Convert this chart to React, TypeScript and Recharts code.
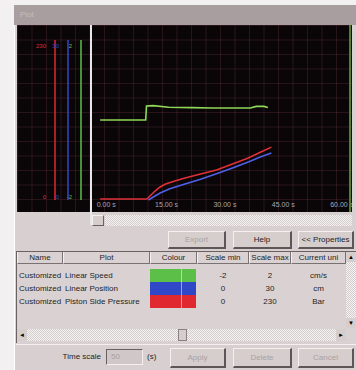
import React from "react";
import { LineChart, Line, XAxis, YAxis } from "recharts";

// series (time in s)
const speedTime = [1.4, 13.1, 13.3, 15, 19, 25, 30, 35, 40, 41.5, 43.5, 44.5];
const speedValues = [0, 0, 0.35, 0.36, 0.32, 0.31, 0.3, 0.3, 0.3, 0.34, 0.34, 0.31];

const positionTime = [13.8, 15.5, 16.8, 19.3, 23.2, 27.2, 31.3, 35.4, 39.3, 42.7, 45.4];
const positionValues = [0, 0.75, 1.3, 2.1, 3, 3.9, 4.9, 6, 7.1, 8.1, 8.8];

const pressureTime = [1.4, 13.4, 14.2, 15.5, 16.8, 18.2, 20.6, 23.2, 27.2, 31.3, 35.4, 39.3, 42.7, 45.4];
const pressureValues = [1.4, 1.4, 5.8, 12.9, 18.7, 23, 27.3, 31.6, 37.4, 43, 51.8, 60, 69, 76];

const xTicks = [0, 15, 30, 45, 60];

const names = ["Customized", "Customized", "Customized"];
const plotNames = ["Linear Speed", "Linear Position", "Piston Side Pressure"];
const colours = ["#5cc048", "#3048c8", "#e02830"];
const scaleMin = [-2, 0, 0];
const scaleMax = [2, 30, 230];
const units = ["cm/s", "cm", "Bar"];

const zip = (t: number[], v: number[]) => t.map((x, i) => ({ t: x, v: v[i] }));

const FONT = '"Liberation Sans", Arial, sans-serif';

const Btn = ({ x, y, w, h, label, disabled }: any) => (
  <div
    style={{
      position: "absolute", left: x, top: y, width: w, height: h,
      background: "#d6cdcd", boxSizing: "border-box",
      borderTop: "1px solid #f4f0f0", borderLeft: "1px solid #f4f0f0",
      borderRight: "2px solid #5e5656", borderBottom: "2px solid #5e5656",
      display: "flex", alignItems: "center", justifyContent: "center",
      fontSize: 8, color: disabled ? "#aaa2a2" : "#1e1e1e",
    }}
  >
    {label}
  </div>
);

const hatch = "repeating-conic-gradient(#f6f3f3 0 25%, #d4cccc 0 50%) 0 0/2px 2px";

const YTick = ({ x, y, payload, fill, min }: any) => (
  <text x={x - 1} y={y} dy={payload.value === min ? -1 : 8} textAnchor="end" fontSize={6} fill={fill} fontFamily={FONT}>
    {payload.value}
  </text>
);

const XTick = ({ x, y, payload }: any) => (
  <text x={x + 2} y={y + 7} textAnchor="start" fontSize={7} fill="#a8a8b0" fontFamily={FONT}>
    {payload.value.toFixed(2)} s
  </text>
);

const cols = [
  { label: "Name", x: 17, w: 46 },
  { label: "Plot", x: 63, w: 87 },
  { label: "Colour", x: 150, w: 47 },
  { label: "Scale min", x: 197, w: 52 },
  { label: "Scale max", x: 249, w: 42 },
  { label: "Current uni", x: 291, w: 55 },
];

export default function App() {
  return (
    <div style={{ position: "relative", width: 356, height: 370, background: "#f2f0f0", fontFamily: FONT, overflow: "hidden" }}>
      <style>{`body{margin:0}`}</style>
      {/* window */}
      <div style={{ position: "absolute", left: 14, top: 5, width: 342, height: 365, background: "#d8d0d0", borderLeft: "1px solid #ffffff" }} />
      <div style={{ position: "absolute", left: 14, top: 5, width: 342, height: 20, background: "#a89ea0" }}>
        <span style={{ position: "absolute", left: 6, top: 5, fontSize: 8, color: "#c4bcbe" }}>Plot</span>
      </div>
      {/* black plot panel */}
      <div
        style={{
          position: "absolute", left: 17, top: 25, width: 335, height: 187, background: "#0a0608",
          backgroundImage:
            "linear-gradient(to right, rgba(120,60,70,0.28) 1px, transparent 1px), linear-gradient(to bottom, rgba(120,60,70,0.28) 1px, transparent 1px)",
          backgroundSize: "14.5px 14.5px",
        }}
      />
      <div style={{ position: "absolute", left: 17, top: 25 }}>
        <LineChart width={335} height={187} margin={{ top: 15, right: 2, left: 25, bottom: 0 }}>
          <XAxis
            type="number" dataKey="t" domain={[-0.7, 65.6]} ticks={xTicks} allowDuplicatedCategory={false}
            axisLine={false} tickLine={false} tickSize={0} tickMargin={0} tick={<XTick />} height={12} interval={0}
          />
          <YAxis yAxisId="a_pad" domain={[0, 1]} width={11} axisLine={false} tickLine={false} tick={false} />
          <YAxis yAxisId="b_speed" domain={[scaleMin[0], scaleMax[0]]} ticks={[scaleMin[0], scaleMax[0]]} width={13}
            axisLine={{ stroke: colours[0], strokeWidth: 1.5 }} tickLine={false}
            tick={<YTick fill={colours[0]} min={scaleMin[0]} />} interval={0} />
          <YAxis yAxisId="c_position" domain={[scaleMin[1], scaleMax[1]]} ticks={[scaleMin[1], scaleMax[1]]} width={13}
            axisLine={{ stroke: colours[1], strokeWidth: 1.5 }} tickLine={false}
            tick={<YTick fill={colours[1]} min={scaleMin[1]} />} interval={0} />
          <YAxis yAxisId="d_pressure" domain={[scaleMin[2], scaleMax[2]]} ticks={[scaleMin[2], scaleMax[2]]} width={13}
            axisLine={{ stroke: colours[2], strokeWidth: 1.5 }} tickLine={false}
            tick={<YTick fill={colours[2]} min={scaleMin[2]} />} interval={0} />
          <Line yAxisId="b_speed" data={zip(speedTime, speedValues)} dataKey="v" type="linear" stroke="#8fd858" strokeWidth={1.6} dot={false} isAnimationActive={false} />
          <Line yAxisId="c_position" data={zip(positionTime, positionValues)} dataKey="v" type="linear" stroke="#5060e8" strokeWidth={1.6} dot={false} isAnimationActive={false} />
          <Line yAxisId="d_pressure" data={zip(pressureTime, pressureValues)} dataKey="v" type="linear" stroke="#e03038" strokeWidth={1.6} dot={false} isAnimationActive={false} />
        </LineChart>
      </div>
      {/* separator and cursor */}
      <div style={{ position: "absolute", left: 90, top: 25, width: 2, height: 200, background: "#e8e8ec" }} />
      <div style={{ position: "absolute", left: 349, top: 25, width: 2, height: 187, background: "#5a7a34" }} />
      {/* time scrollbar */}
      <div style={{ position: "absolute", left: 92, top: 215, width: 12, height: 11, background: "#d6cdcd", boxSizing: "border-box", border: "1px solid #6a6262", borderTopColor: "#f4f0f0", borderLeftColor: "#f4f0f0" }} />
      <div style={{ position: "absolute", left: 105, top: 215, width: 247, height: 11, background: hatch }} />
      {/* buttons */}
      <Btn x={168} y={231} w={58} h={18} label="Export" disabled />
      <Btn x={233} y={231} w={59} h={18} label="Help" />
      <Btn x={298} y={231} w={56} h={18} label="<< Properties" />
      {/* table */}
      <div style={{ position: "absolute", left: 16, top: 251, width: 340, height: 92, boxSizing: "border-box", borderTop: "1px solid #6a6262", borderLeft: "1px solid #6a6262", background: "#dad2d2" }} />
      {cols.map((c) => (
        <div key={c.label}
          style={{
            position: "absolute", left: c.x, top: 252, width: c.w, height: 12, boxSizing: "border-box",
            borderRight: "1px solid #7a7272", borderBottom: "1px solid #7a7272", borderLeft: "1px solid #f4f0f0",
            fontSize: 8, color: "#1e1e1e", textAlign: "center", lineHeight: "11px", whiteSpace: "nowrap", overflow: "hidden",
          }}
        >
          {c.label}
        </div>
      ))}
      {plotNames.map((p, i) => {
        const top = 269 + i * 13;
        const cell = { position: "absolute" as const, top, height: 13, lineHeight: "13px", fontSize: 8, color: "#1e1e1e", whiteSpace: "nowrap" as const };
        return (
          <React.Fragment key={p}>
            <div style={{ ...cell, left: 19 }}>{names[i]}</div>
            <div style={{ ...cell, left: 65 }}>{p}</div>
            <div style={{ ...cell, left: 150, width: 46, background: colours[i] }} />
            <div style={{ ...cell, left: 197, width: 52, textAlign: "center" }}>{scaleMin[i]}</div>
            <div style={{ ...cell, left: 249, width: 42, textAlign: "center" }}>{scaleMax[i]}</div>
            <div style={{ ...cell, left: 291, width: 55, textAlign: "center" }}>{units[i]}</div>
          </React.Fragment>
        );
      })}
      <div style={{ position: "absolute", left: 181, top: 269, width: 1, height: 39, background: "rgba(255,255,255,0.5)" }} />
      {/* vertical scrollbar */}
      <div style={{ position: "absolute", left: 346, top: 252, width: 10, height: 76, background: hatch }} />
      <div style={{ position: "absolute", left: 346, top: 252, width: 10, height: 10, background: "#d6cdcd", fontSize: 6, textAlign: "center", lineHeight: "10px" }}>▲</div>
      <div style={{ position: "absolute", left: 346, top: 318, width: 10, height: 10, background: "#d6cdcd", fontSize: 6, textAlign: "center", lineHeight: "10px" }}>▼</div>
      {/* horizontal scrollbar */}
      <div style={{ position: "absolute", left: 17, top: 329, width: 329, height: 12, background: hatch }} />
      <div style={{ position: "absolute", left: 17, top: 329, width: 10, height: 12, background: "#d6cdcd", fontSize: 6, textAlign: "center", lineHeight: "12px" }}>◄</div>
      <div style={{ position: "absolute", left: 178, top: 329, width: 9, height: 12, background: "#d6cdcd", boxSizing: "border-box", border: "1px solid #8a8282" }} />
      <div style={{ position: "absolute", left: 336, top: 329, width: 10, height: 12, background: "#d6cdcd", fontSize: 6, textAlign: "center", lineHeight: "12px" }}>►</div>
      <div style={{ position: "absolute", left: 16, top: 344, width: 340, height: 1, background: "#f4f0f0" }} />
      {/* bottom controls */}
      <div style={{ position: "absolute", left: 55, top: 352, width: 46, textAlign: "right", fontSize: 8, color: "#1e1e1e" }}>Time scale</div>
      <div style={{ position: "absolute", left: 106, top: 349, width: 37, height: 16, boxSizing: "border-box", borderTop: "1px solid #6a6262", borderLeft: "1px solid #6a6262", borderRight: "1px solid #f4f0f0", borderBottom: "1px solid #f4f0f0", background: "#d0c8c8", fontSize: 8, color: "#a8a0a0", paddingLeft: 4, lineHeight: "14px" }}>50</div>
      <div style={{ position: "absolute", left: 147, top: 352, fontSize: 8, color: "#1e1e1e" }}>(s)</div>
      <Btn x={170} y={348} w={56} h={20} label="Apply" disabled />
      <Btn x={233} y={348} w={59} h={20} label="Delete" disabled />
      <Btn x={298} y={348} w={56} h={20} label="Cancel" disabled />
    </div>
  );
}
